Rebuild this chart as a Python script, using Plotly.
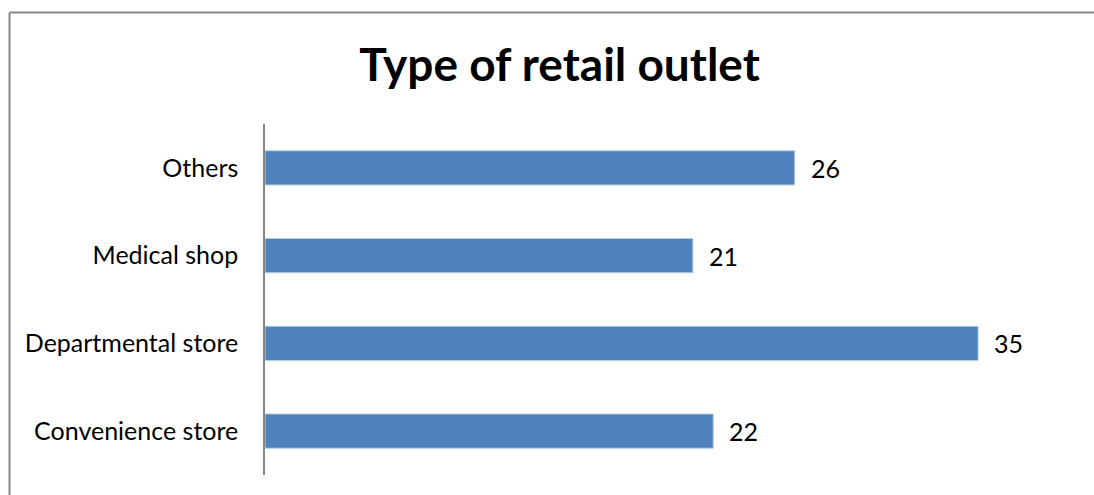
import plotly.graph_objects as go

# Survey counts by outlet type (bottom-to-top order on the category axis)
outlets = ["Convenience store", "Departmental store", "Medical shop", "Others"]
counts = [22, 35, 21, 26]

FONT = "Lato"
BAR_COLOR = "#4F81BD"

fig = go.Figure(
    go.Bar(
        x=counts,
        y=outlets,
        orientation="h",
        marker=dict(color=BAR_COLOR, line=dict(color="#B9CDE5", width=1)),
        hoverinfo="x+y",
    )
)

# value labels placed just past the end of each bar
for name, val in zip(outlets, counts):
    fig.add_annotation(
        x=val, y=name, text=str(val), showarrow=False,
        xanchor="left", xshift=14, font=dict(family=FONT, size=25, color="#000000"),
    )

L, R, T, B = 265, 14, 124, 20
W, H = 1094, 495
pw, ph = W - L - R, H - T - B

# chart frame: left and top edges
fig.add_shape(type="line", xref="paper", yref="paper",
              x0=(9.5 - L) / pw, x1=(W + 5 - L) / pw,
              y0=(H - B - 12.5) / ph, y1=(H - B - 12.5) / ph,
              line=dict(color="#888888", width=2))
fig.add_shape(type="line", xref="paper", yref="paper",
              x0=(9.5 - L) / pw, x1=(9.5 - L) / pw,
              y0=(H - B - 12.5) / ph, y1=-0.2,
              line=dict(color="#888888", width=2))

fig.update_layout(
    width=W, height=H,
    margin=dict(l=L, r=R, t=T, b=B),
    paper_bgcolor="white", plot_bgcolor="white",
    bargap=0.61,
    showlegend=False,
    title=dict(text="<b>Type of retail outlet</b>", x=0.5115, xanchor="center",
               y=(H - 65) / H, yanchor="middle",
               font=dict(family=FONT, size=46, color="#000000")),
    xaxis=dict(range=[0, 40], visible=False, showgrid=False, zeroline=False, fixedrange=True),
    yaxis=dict(showgrid=False, zeroline=False, showline=True, linecolor="#868686", linewidth=1.5,
               ticks="", ticklabelstandoff=20,
               tickfont=dict(family=FONT, size=25, color="#000000"), fixedrange=True),
)

fig.write_html("out.html")
